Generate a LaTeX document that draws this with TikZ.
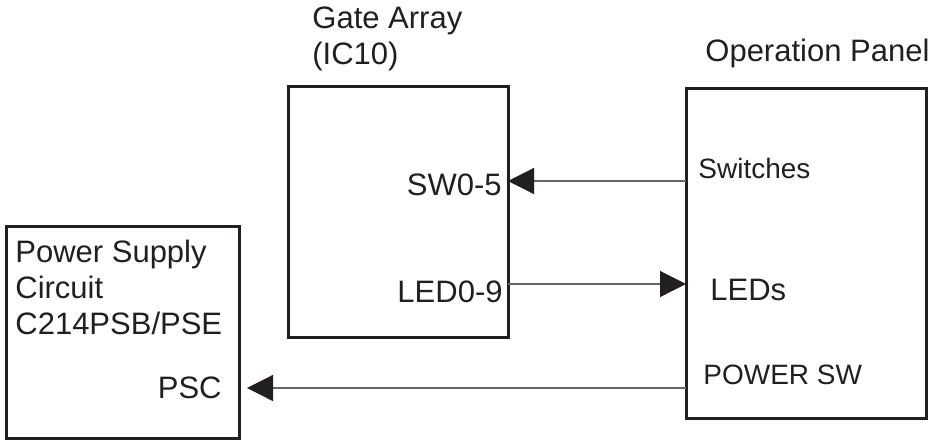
\documentclass[tikz,border=0pt]{standalone}
\usepackage{fontspec}
\setmainfont{Liberation Sans}
\usetikzlibrary{arrows.meta, positioning}
\definecolor{ink}{HTML}{231F20}

\begin{document}
\begin{tikzpicture}[
    x=0.5pt, y=-0.5pt,
    blk/.style={draw=ink, line width=1.5pt, inner sep=0pt, outer sep=0pt},
    big/.style={font=\fontsize{15.5}{18}\selectfont, text=ink, inner sep=0pt},
    small/.style={font=\fontsize{14}{16}\selectfont, text=ink, inner sep=0pt},
    arr/.style={-{Triangle[length=13pt, width=13pt, ink]}, line width=0.6pt, draw=black!60}
]
\useasboundingbox (0,0) rectangle (932,441);

% ---- blocks ----
\node[blk, minimum width=110pt, minimum height=125.5pt] (ga) at (398,211.5) {};
\node[blk, minimum width=120pt, minimum height=165pt] (op) at (806,253) {};
\node[blk, minimum width=116.5pt, minimum height=106pt] (ps) at (122.5,332) {};

% ---- titles ----
\node[big, align=left, anchor=north west] (gatitle) at (312,6) {Gate Array\\(IC10)};
\node[big, anchor=base west] (optitle) at (705,61) {Operation Panel};
\node[big, align=left, anchor=north west] (pstitle) at (15,240) {Power Supply\\Circuit\\C214PSB/PSE};

% ---- signal labels ----
\node[big, anchor=base east] (sw) at (502,195) {SW0-5};
\node[big, anchor=base east] (led) at (503,302) {LED0-9};
\node[big, anchor=base east] (psc) at (222,398) {PSC};
\node[small, anchor=base west] (swi) at (698,178) {Switches};
\node[big, anchor=base west] (leds) at (710,300) {LEDs};
\node[small, anchor=base west] (pwr) at (703,384) {POWER SW};

% ---- connections ----
\coordinate (swlvl) at (0,181);
\coordinate (ledlvl) at (0,284);
\coordinate (psclvl) at (0,388);
\draw[arr] (op.west |- swlvl) -- (ga.east |- swlvl);
\draw[arr] (ga.east |- ledlvl) -- (op.west |- ledlvl);
\draw[arr, shorten >=4pt] (op.west |- psclvl) -- (ps.east |- psclvl);

\end{tikzpicture}
\end{document}
